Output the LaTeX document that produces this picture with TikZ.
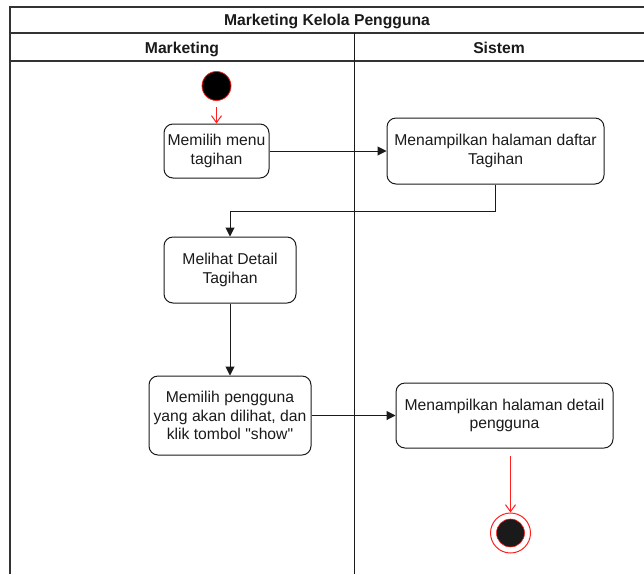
\documentclass[tikz,border=0pt]{standalone}
\usepackage{fontspec}
\setmainfont{Liberation Sans}[Ligatures=TeXOff]
\usetikzlibrary{arrows.meta}
\definecolor{ink}{HTML}{1A1A1A}
\definecolor{frame}{HTML}{333333}
\definecolor{flowred}{HTML}{FF2020}
\begin{document}
\begin{tikzpicture}[x=1pt,y=-1pt,
  act/.style={draw=ink, rounded corners=9pt, line width=1pt, align=center,
    text=ink, inner sep=0pt, font=\fontsize{15.7}{18.5}\selectfont},
  flow/.style={draw=ink, line width=1pt, -{Triangle[length=9pt,width=9pt]}},
  redflow/.style={draw=flowred, line width=1pt, -{Straight Barb[length=7pt,width=10pt]}},
  startdot/.style={circle, fill=black, draw=flowred, line width=0.8pt,
    minimum size=29pt, inner sep=0pt},
  enddot/.style={circle, draw=flowred, line width=1pt, fill=white,
    minimum size=40pt, inner sep=0pt},
  lanehead/.style={font=\bfseries\fontsize{15.7}{18.5}\selectfont, text=ink, anchor=base},
  laneline/.style={draw=frame, line width=1.4pt}
]
\useasboundingbox (0,0) rectangle (644,574);
\clip (0,0) rectangle (644,574);

% pool frame and swimlanes
\draw[laneline] (10,574) -- (10,7) -- (650,7);
\draw[laneline] (10,33) -- (650,33);
\draw[laneline] (10,61) -- (650,61);
\draw[draw=ink, line width=1pt] (354,33) -- (354,574);
\node[lanehead] (pool) at (327,25.5) {Marketing Kelola Pengguna};
\node[lanehead] (laneA) at (182,53) {Marketing};
\node[lanehead] (laneB) at (499,53) {Sistem};

% activities
\node[startdot] (s) at (216.5,86) {};
\node[act, minimum width=105pt, minimum height=54pt] (b1) at (216.5,151) {Memilih menu\\tagihan};
\node[act, minimum width=217pt, minimum height=66pt] (b2) at (495.5,151) {Menampilkan halaman daftar\\Tagihan};
\node[act, minimum width=132pt, minimum height=66pt] (b3) at (230,270) {Melihat Detail\\Tagihan};
\node[act, minimum width=162pt, minimum height=79pt] (b4) at (230,415.5) {Memilih pengguna\\yang akan dilihat, dan\\klik tombol "show"};
\node[act, minimum width=217pt, minimum height=65pt] (b5) at (504.5,415.5) {Menampilkan halaman detail\\pengguna};
\node[enddot] (fin) at (510.5,533) {};
\node[circle, fill=ink, draw=flowred, line width=0.6pt, minimum size=28pt, inner sep=0pt] (finin) at (fin) {};

% flows
\draw[redflow, shorten <=6pt] (s) -- (b1);
\draw[flow] (b1.east) -- (b2.west);
\draw[flow] (b2.south) -- ++(0,27) -| (b3.north);
\draw[flow] (b3) -- (b4);
\draw[flow] (b4.east) -- (b5.west);
\draw[redflow, shorten <=7pt] (b5.south -| fin) -- (fin);
\end{tikzpicture}
\end{document}
